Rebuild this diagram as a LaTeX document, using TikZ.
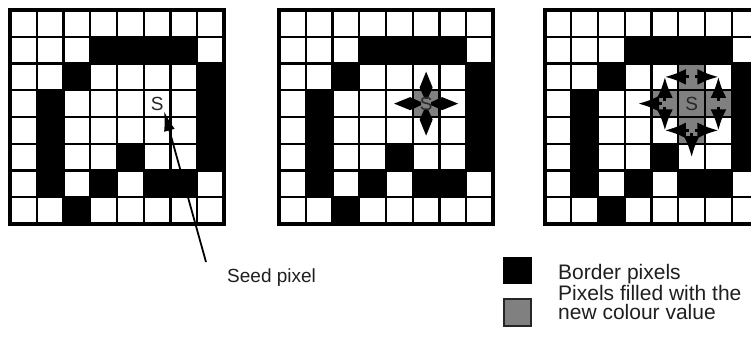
\documentclass[tikz,border=0pt]{standalone}
\usepackage{fontspec}
\setmainfont{Liberation Sans}
\usetikzlibrary{arrows.meta}
\definecolor{fillgray}{RGB}{128,128,128}
\definecolor{sdark}{RGB}{40,40,40}
\tikzset{
  gridline/.style={line width=2.2pt, black},
  gridframe/.style={line width=4pt, black},
  seedlabel/.style={font=\fontsize{19}{19}\selectfont, text=sdark, inner sep=0pt},
  flowarrow/.style={line width=2.8pt, -{Latex[length=21pt,width=16pt]}, shorten <=3pt},
  pointer/.style={line width=1.8pt, -{Latex[length=20pt,width=11pt]}},
  legendtext/.style={font=\fontsize{21}{21}\selectfont, inner sep=0pt, text=black!88},
}
\def\cs{26.75}
\begin{document}
\begin{tikzpicture}[x=1pt,y=-1pt]
\useasboundingbox (0,0) rectangle (751,341);
\clip (0,0) rectangle (751,341);
\fill[white] (0,0) rectangle (751,341);
% three grids
\foreach \ox in {10,279,544.5}{
  \foreach \r/\c in {1/3,1/4,1/5,1/6,2/2,2/7,3/1,3/7,4/1,4/7,5/1,5/4,5/7,6/1,6/3,6/5,6/6,7/2}{
    \fill[black] (\ox+\c*\cs,10+\r*\cs) rectangle ++(\cs,\cs);
  }
}
% gray cells
\fill[fillgray] (279+5*\cs,10+3*\cs) rectangle ++(\cs,\cs);
\foreach \r/\c in {2/5,3/4,3/5,3/6,4/5}{
  \fill[fillgray] (544.5+\c*\cs,10+\r*\cs) rectangle ++(\cs,\cs);
}
\foreach \ox in {10,279,544.5}{
  \foreach \i in {1,...,7}{
    \draw[gridline] (\ox+\i*\cs,10) -- ++(0,8*\cs);
    \draw[gridline] (\ox,10+\i*\cs) -- ++(8*\cs,0);
  }
  \draw[gridframe] (\ox,10) rectangle ++(8*\cs,8*\cs);
}
% grid 1: seed
\node[seedlabel] (s1) at (10+5.5*\cs,10+3.5*\cs) {S};
\coordinate (seedtip) at (164,111);
\coordinate (seedtail) at (206,262);
\draw[pointer] (seedtail) -- (seedtip);
\node[legendtext, font=\fontsize{19}{19}\selectfont, anchor=base west] (seedlbl) at (227,282) {Seed pixel};
% grid 2: star
\coordinate (c2) at (279+5.5*\cs,10+3.5*\cs);
\begin{scope}[shift={(c2)}]
  \foreach \a in {0,90,180,270}{
    \fill[black, rotate=\a] (5,1.5) -- (16,6.5) -- (32,0) -- (16,-6.5) -- (5,-1.5) -- cycle;
  }
\end{scope}
\node[seedlabel] (s2) at (c2) {S};
% grid 3: arrows
\foreach \r/\c in {2/4,2/5,2/6,3/3,3/4,3/5,3/6,4/4,4/5,4/6,5/5}{
  \coordinate (g-\r-\c) at (544.5+\c*\cs+0.5*\cs,10+\r*\cs+0.5*\cs);
}
\node[seedlabel] (s3) at (g-3-5) {S};
\draw[flowarrow] (g-2-5) -- (g-2-4);
\draw[flowarrow] (g-2-5) -- (g-2-6);
\draw[flowarrow] (g-3-4) -- (g-2-4);
\draw[flowarrow] (g-3-4) -- (g-4-4);
\draw[flowarrow] (g-3-4) -- (g-3-3);
\draw[flowarrow] (g-3-6) -- (g-2-6);
\draw[flowarrow] (g-3-6) -- (g-4-6);
\draw[flowarrow] (g-4-5) -- (g-4-4);
\draw[flowarrow] (g-4-5) -- (g-4-6);
\draw[flowarrow] (g-4-5) -- (g-5-5);
% legend
\fill[black] (503,257) rectangle (532,284);
\node[legendtext, anchor=base west] (lg1) at (558,279) {Border pixels};
\draw[line width=2pt, fill=fillgray, draw=black!85] (504,299) rectangle (531,326);
\node[legendtext, anchor=base west] (lg2) at (558,300) {Pixels filled with the};
\node[legendtext, anchor=base west] (lg3) at (558,319) {new colour value};
\end{tikzpicture}
\end{document}
